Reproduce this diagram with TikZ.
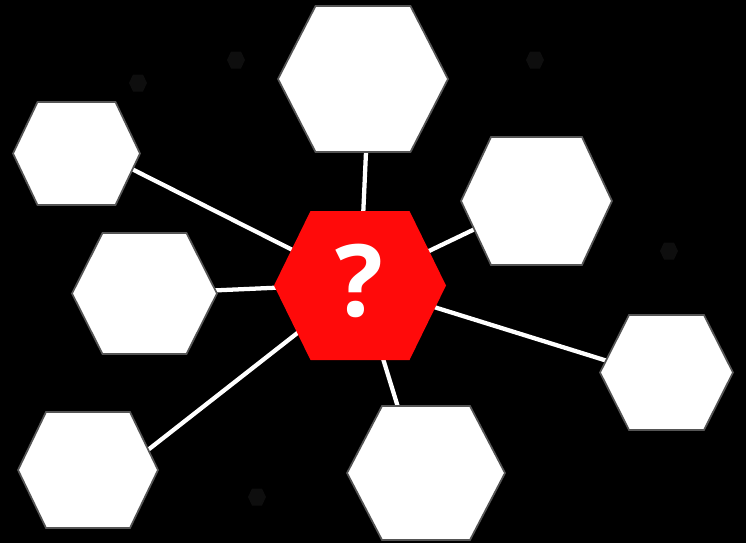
\documentclass[tikz,border=0pt]{standalone}
\usepackage{fontspec}
\newfontfamily\markfont{Open Sans}
\definecolor{hubred}{RGB}{255,10,10}
\definecolor{hexrim}{RGB}{85,85,85}
\definecolor{dimhex}{RGB}{14,14,14}
\tikzset{
  link/.style={draw=white, line width=3.2pt},
  leafhex/.style={fill=white, draw=hexrim, line width=1.3pt},
  hubhex/.style={fill=hubred},
  faint/.style={fill=dimhex},
}
% style, cx, cy, half width, half top, half height
\newcommand{\hexpath}[6]{%
  \path[#1] ({#2-#4},#3) -- ({#2-#5},{#3-#6}) -- ({#2+#5},{#3-#6}) -- ({#2+#4},#3)
    -- ({#2+#5},{#3+#6}) -- ({#2-#5},{#3+#6}) -- cycle;}

\begin{document}
\begin{tikzpicture}[x=0.75pt,y=0.75pt,yscale=-1,xscale=1]
\fill[black] (0,0) rectangle (746,543);
\useasboundingbox (0,0) rectangle (746,543);

%Line ends
\coordinate (hub) at (360,284);
\coordinate (top) at (367,130);
\coordinate (upleft) at (110,158);
\coordinate (upright) at (500,217);
\coordinate (midleft) at (190,291.5);
\coordinate (right) at (630,368);
\coordinate (lowleft) at (130,464);
\coordinate (bottom) at (405,430);

%Straight Lines
\draw[link] (hub) -- (top);
\draw[link] (hub) -- (upleft);
\draw[link] (hub) -- (upright);
\draw[link] (hub) -- (midleft);
\draw[link] (hub) -- (right);
\draw[link] (hub) -- (lowleft);
\draw[link] (hub) -- (bottom);

%Shape: faint hexagons
\hexpath{faint}{138}{83}{9}{5}{8.5}
\hexpath{faint}{236}{60}{9}{5}{8.5}
\hexpath{faint}{535}{60}{9}{5}{8.5}
\hexpath{faint}{669}{251}{9}{5}{8.5}
\hexpath{faint}{257}{497}{9}{5}{8.5}

%Shape: outer hexagons
\hexpath{leafhex}{363}{79}{85}{47.5}{73}
\hexpath{leafhex}{76.5}{153.5}{63.5}{39}{51.5}
\hexpath{leafhex}{536.5}{201}{75.5}{45.5}{64}
\hexpath{leafhex}{144.5}{293.5}{72.5}{42}{60.5}
\hexpath{leafhex}{666.5}{372.5}{66.5}{37.5}{57.5}
\hexpath{leafhex}{88}{470}{70}{42}{58}
\hexpath{leafhex}{426}{473}{79}{44}{67}

%Shape: centre hexagon
\hexpath{hubhex}{360}{285.5}{86}{49.5}{74.5}

% Text Node
\node[text=white, font=\markfont\bfseries\fontsize{75}{75}\selectfont, inner sep=0pt]
  (mark) at (359,281) {?};
\end{tikzpicture}
\end{document}
